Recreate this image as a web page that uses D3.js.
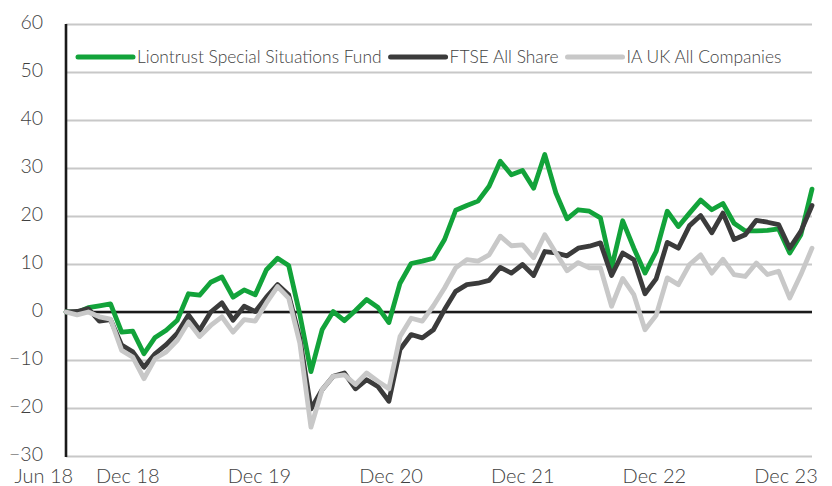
<!DOCTYPE html>
<html>
<head>
<meta charset="utf-8">
<script src="https://cdn.jsdelivr.net/npm/d3@7"></script>
<style>
  html, body { margin: 0; padding: 0; background: #ffffff; }
  svg { display: block; font-family: Lato, "Open Sans", sans-serif; font-weight: 300; }
</style>
</head>
<body>
<svg id="chart" width="832" height="486"></svg>
<script>
// Cumulative performance (%), month ends May 2018 – Dec 2023
const seriesNames = ["Liontrust Special Situations Fund", "FTSE All Share", "IA UK All Companies"];

const fundValues = [
  0, -0.1, 0.9, 1.3, 1.7, -4.2, -4.0, -8.7, -5.3, -3.8, -1.7, 3.8,
  3.5, 6.2, 7.3, 3.1, 4.6, 3.6, 8.8, 11.2, 9.7, -0.5, -12.4, -3.7,
  0.1, -1.8, 0.3, 2.6, 1.0, -2.2, 6.0, 10.1, 10.6, 11.2, 15.1, 21.2,
  22.2, 23.1, 26.2, 31.4, 28.6, 29.5, 25.8, 32.8, 24.8, 19.4, 21.3, 21.0,
  19.6, 9.2, 19.0, 13.3, 8.1, 12.6, 21.0, 17.8, 20.6, 23.3, 21.3, 22.6,
  18.5, 16.9, 16.9, 17.0, 17.3, 12.3, 16.1, 25.6
];

const ftseValues = [
  0, 0.1, 0.7, -1.9, -1.6, -6.9, -8.3, -11.5, -8.7, -6.8, -4.4, -0.6,
  -3.8, 0, 1.9, -1.7, 1.2, 0.1, 3.1, 5.7, 3.6, -5.5, -20.2, -16.2,
  -13.4, -12.7, -16.0, -14.1, -15.5, -18.6, -7.8, -4.7, -5.4, -3.7, 0.5, 4.3,
  5.7, 6.0, 6.6, 9.3, 8.1, 9.9, 7.6, 12.6, 12.3, 11.7, 13.3, 13.7,
  14.4, 7.6, 12.3, 10.9, 3.8, 6.9, 14.5, 13.3, 18.0, 20.1, 16.5, 20.6,
  15.1, 16.1, 19.1, 18.7, 18.2, 13.3, 16.8, 22.2
];

const sectorValues = [
  0, -0.6, 0, -1.0, -1.5, -8.0, -9.4, -13.9, -9.7, -8.3, -5.9, -2.1,
  -5.1, -2.8, -1.0, -4.2, -1.6, -1.9, 1.9, 5.3, 2.9, -6.5, -24.0, -16.2,
  -13.4, -13.1, -15.1, -12.7, -14.4, -16.0, -5.1, -1.3, -1.9, 1.3, 5.0, 9.2,
  10.9, 10.6, 11.9, 15.8, 13.8, 14.0, 11.3, 16.1, 12.3, 8.6, 10.3, 9.2,
  9.2, 1.2, 7.0, 3.6, -3.7, -0.7, 7.1, 5.7, 9.9, 11.9, 8.1, 11.0,
  7.8, 7.4, 10.2, 7.8, 8.5, 2.9, 7.8, 13.3
];

const yTicks = [-30, -20, -10, 0, 10, 20, 30, 40, 50, 60];
const xTickLabels = ["Jun 18", "Dec 18", "Dec 19", "Dec 20", "Dec 21", "Dec 22", "Dec 23"];

// Month categories: May 18 ... Dec 23
const fmt = d3.timeFormat("%b %y");
const months = d3.timeMonth.range(new Date(2018, 4, 1), new Date(2024, 0, 1)).map(fmt);

const colors = ["#12a33a", "#3b3b3b", "#c8c8c8"];
const seriesValues = [fundValues, ftseValues, sectorValues];

const svg = d3.select("#chart");
const plot = { left: 66, right: 812, top: 24, bottom: 456 };

const x = d3.scalePoint().domain(months).range([plot.left, plot.right]);
const y = d3.scaleLinear().domain([-30, 60]).range([plot.bottom, plot.top]);

// Horizontal gridlines and y tick labels
const yAxis = d3.axisLeft(y)
  .tickValues(yTicks)
  .tickSize(-(plot.right - plot.left))
  .tickPadding(23)
  .tickFormat(d3.format("d"));

const gy = svg.append("g")
  .attr("transform", `translate(${plot.left},0)`)
  .call(yAxis);
gy.select(".domain").remove();
gy.selectAll(".tick line")
  .attr("stroke", "#c8c8c8")
  .attr("stroke-width", 2);
gy.selectAll(".tick text")
  .attr("fill", "#3f3f3f")
  .attr("font-size", 19.5)
  .attr("dy", "0.22em")
  .attr("font-family", "Lato, 'Open Sans', sans-serif")
  .attr("font-weight", 300);

// Zero line
svg.append("line")
  .attr("x1", plot.left).attr("x2", plot.right)
  .attr("y1", y(0)).attr("y2", y(0))
  .attr("stroke", "#1a1a1a")
  .attr("stroke-width", 2.6);

// Vertical axis line
svg.append("line")
  .attr("x1", plot.left).attr("x2", plot.left)
  .attr("y1", plot.top).attr("y2", plot.bottom + 1)
  .attr("stroke", "#1a1a1a")
  .attr("stroke-width", 2.6);

// Date labels along the bottom
const n = months.length;
const labelX = d3.scaleLinear()
  .domain([0, n - 1])
  .range([x(months[0]) - 15, x(months[n - 1]) - 26]);

svg.append("g")
  .selectAll("text")
  .data(xTickLabels)
  .join("text")
  .attr("x", (d, i) => {
    const idx = months.indexOf(d);
    return i === 0 ? x(d) - 4 : labelX(idx);
  })
  .attr("y", 482.5)
  .attr("text-anchor", (d, i) => i === 0 ? "end" : "middle")
  .attr("fill", "#3f3f3f")
  .attr("font-size", 20)
  .text(d => d);

// Series lines (benchmarks drawn over the fund)
const line = d3.line()
  .x((d, i) => x(months[i]))
  .y(d => y(d));

svg.append("g")
  .selectAll("path")
  .data(seriesValues)
  .join("path")
  .attr("d", line)
  .attr("fill", "none")
  .attr("stroke", (d, i) => colors[i])
  .attr("stroke-width", 4.8)
  .attr("stroke-linejoin", "round")
  .attr("stroke-linecap", "round");

// Legend
const legend = svg.append("g").attr("transform", "translate(78,57)");
let cursor = 0;
seriesNames.forEach((name, i) => {
  const item = legend.append("g").attr("transform", `translate(${cursor},0)`);
  item.append("line")
    .attr("x1", 0).attr("x2", 55)
    .attr("y1", 0).attr("y2", 0)
    .attr("stroke", colors[i])
    .attr("stroke-width", 5)
    .attr("stroke-linecap", "round");
  const t = item.append("text")
    .attr("x", 59)
    .attr("y", 6.3)
    .attr("fill", "#3f3f3f")
    .attr("font-size", 17.4)
    .text(name);
  cursor += 59 + t.node().getComputedTextLength() + 9;
});
</script>
</body>
</html>
